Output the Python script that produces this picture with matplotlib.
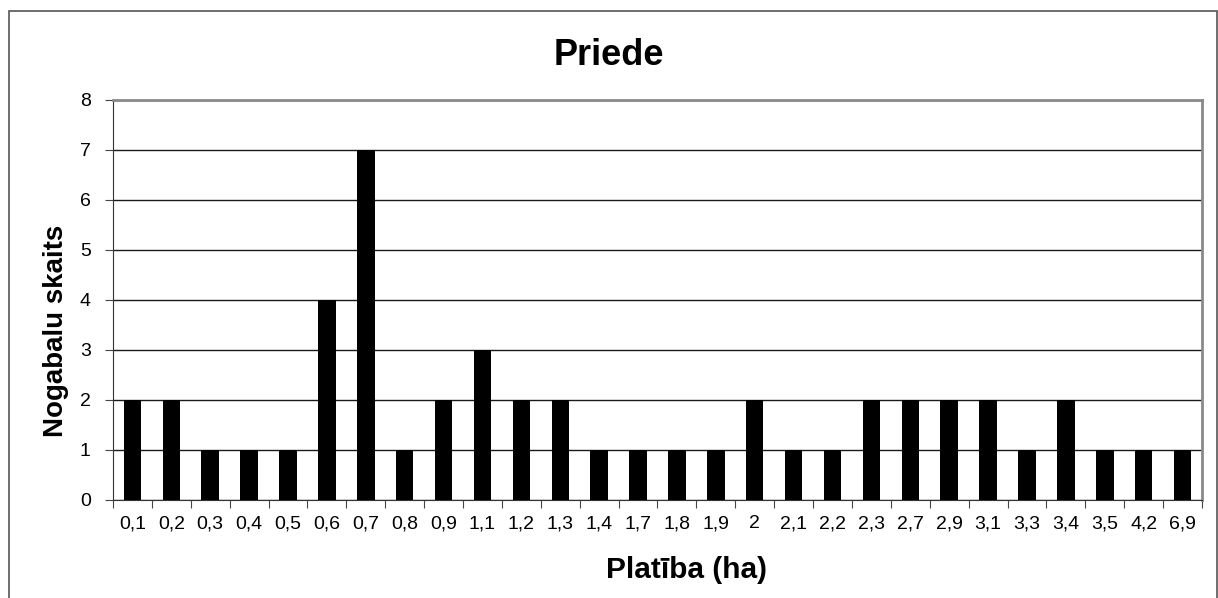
import matplotlib.pyplot as plt
from matplotlib.patches import Rectangle

plt.rcParams['font.family'] = ['Liberation Sans', 'DejaVu Sans']

# platības klases un nogabalu skaits
platiba = ['0,1', '0,2', '0,3', '0,4', '0,5', '0,6', '0,7', '0,8', '0,9',
           '1,1', '1,2', '1,3', '1,4', '1,7', '1,8', '1,9', '2', '2,1',
           '2,2', '2,3', '2,7', '2,9', '3,1', '3,3', '3,4', '3,5', '4,2', '6,9']
skaits = [2, 2, 1, 1, 1, 4, 7, 1, 2, 3, 2, 2, 1, 1, 1, 1, 2, 1,
          1, 2, 2, 2, 2, 1, 2, 1, 1, 1]

W, H = 1218, 598
fig = plt.figure(figsize=(W / 100, H / 100), dpi=100)
ax = fig.add_axes([113 / W, 1 - 500 / H, (1202 - 113) / W, 400 / H])

x = range(len(platiba))
ax.bar(x, skaits, width=0.45, color='black', zorder=3)

ax.set_xlim(-0.5, len(platiba) - 0.5)
ax.set_ylim(0, 8)
ax.set_yticks(range(0, 9))
ax.grid(axis='y', color='#1a1a1a', linewidth=1, zorder=1)

# iedaļas starp kategorijām, nosaukumi kategoriju vidū
ax.set_xticks([i - 0.5 for i in range(len(platiba) + 1)])
ax.set_xticklabels([])
ax.set_xticks(list(x), minor=True)
ax.set_xticklabels(platiba, minor=True, fontsize=14)
ax.tick_params(axis='x', which='minor', length=0, pad=11)
ax.tick_params(axis='x', which='major', length=6, direction='out', color='#444444')
ax.tick_params(axis='y', length=6, direction='out', labelsize=14, pad=10, color='#444444')

for side in ['top', 'right']:
    ax.spines[side].set_color('#8a8a8a')
    ax.spines[side].set_linewidth(2)
ax.spines['left'].set_color('#333333')
ax.spines['bottom'].set_color('#333333')

# virsraksts un asu nosaukumi
fig.text(609 / W, 1 - 65 / H, 'Priede', fontsize=26, fontweight='bold',
         ha='center', va='baseline')
fig.text(56 / W, 1 - 331 / H, 'Nogabalu skaits', fontsize=20, fontweight='bold',
         rotation=90, ha='center', va='center')
fig.text(687 / W, 1 - 578 / H, 'Platība (ha)', fontsize=21.5, fontweight='bold',
         ha='center', va='baseline')

# diagrammas ārējais rāmis
fig.patches.append(Rectangle((8.5 / W, -0.05), (1216.5 - 8.5) / W, 1 - 10.5 / H + 0.05,
                             transform=fig.transFigure, fill=False,
                             edgecolor='#555555', linewidth=1.2))

fig.savefig('out.png', dpi=100)
